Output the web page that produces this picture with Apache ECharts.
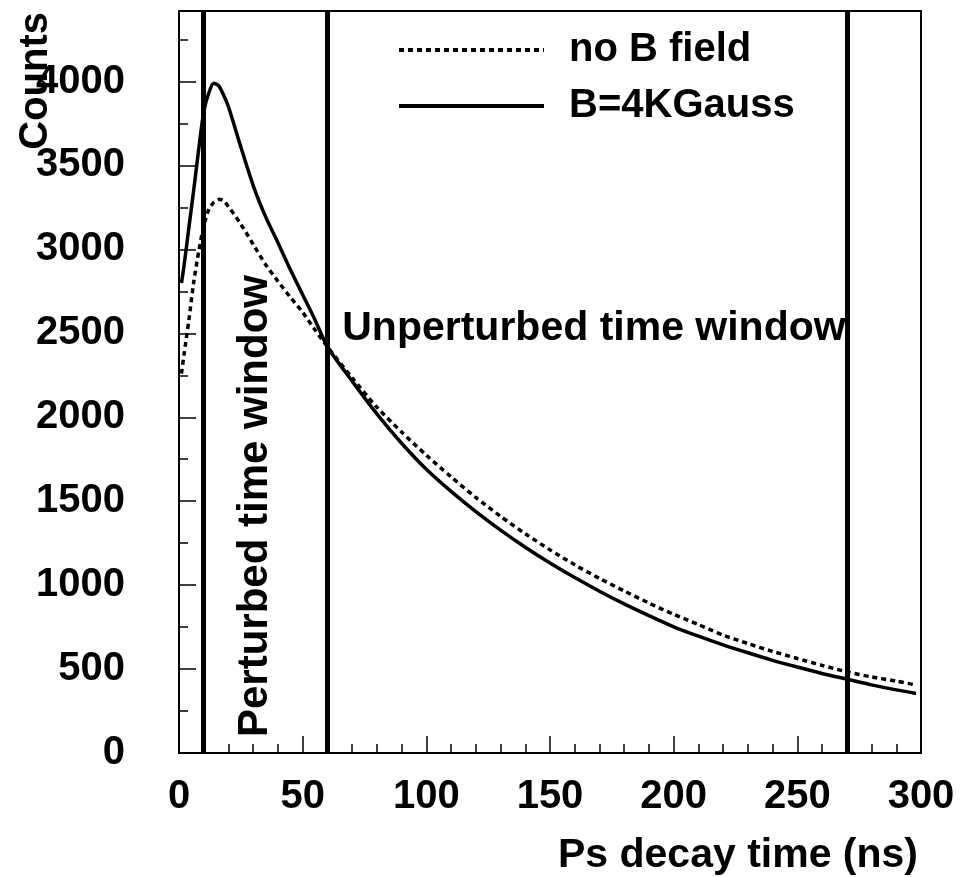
<!DOCTYPE html>
<html>
<head>
<meta charset="utf-8">
<script src="https://cdn.jsdelivr.net/npm/echarts@6/dist/echarts.min.js"></script>
<style>
  html, body { margin: 0; padding: 0; background: #fff; }
  #main { width: 970px; height: 877px; }
</style>
</head>
<body>
<div id="main"></div>
<script>
// decay time (ns)
var times = [1, 2, 4, 6, 8, 10, 12, 14, 16, 18, 20, 25, 30, 35, 40, 45, 50, 55, 60,
  70, 80, 90, 100, 110, 120, 130, 140, 150, 160, 170, 180, 190, 200,
  210, 220, 230, 240, 250, 260, 270, 280, 290, 298];
// counts, no B field (dotted)
var noField = [2260, 2370, 2580, 2810, 2990, 3140, 3235, 3280, 3298, 3290, 3255, 3150, 3030, 2910, 2810, 2715, 2625, 2520, 2420,
  2235, 2060, 1912, 1774, 1645, 1522, 1410, 1306, 1210, 1121, 1040, 965, 893, 826,
  765, 702, 652, 605, 563, 522, 484, 453, 428, 405];
// counts, B = 4 kGauss (solid)
var bField = [2800, 2900, 3130, 3360, 3600, 3820, 3930, 3990, 3975, 3920, 3850, 3610, 3380, 3195, 3040, 2880, 2730, 2580, 2420,
  2215, 2020, 1845, 1690, 1558, 1438, 1328, 1226, 1132, 1045, 964, 888, 818, 752,
  696, 644, 597, 552, 512, 474, 440, 406, 376, 355];
// time window borders
var windowEdges = [10, 60, 270];
var seriesNames = ['no B field', 'B=4KGauss'];

var FONT = "'Liberation Sans', Arial, Helvetica, sans-serif";

function pairs(xs, ys) {
  return xs.map(function (x, i) { return [x, ys[i]]; });
}

var chart = echarts.init(document.getElementById('main'));

var option = {
  animation: false,
  backgroundColor: '#fff',
  grid: {
    left: 179, top: 11, right: 49, bottom: 124,
    show: true, borderColor: '#000', borderWidth: 2
  },
  legend: {
    orient: 'vertical',
    left: 397,
    top: 30,
    padding: 0,
    itemWidth: 145,
    itemHeight: 20,
    itemGap: 16,
    data: seriesNames,
    itemStyle: { opacity: 0 },
    lineStyle: { width: 4 },
    textStyle: {
      fontFamily: FONT, fontWeight: 'bold', fontSize: 40, color: '#000',
      padding: [0, 0, 0, 20]
    }
  },
  xAxis: {
    type: 'value',
    min: 0, max: 300, interval: 50,
    name: 'Ps decay time (ns)',
    nameLocation: 'end',
    nameGap: -3,
    nameTextStyle: {
      fontFamily: FONT, fontWeight: 'bold', fontSize: 41, color: '#000',
      align: 'right', verticalAlign: 'top', padding: [82, 0, 0, 0]
    },
    axisLine: { lineStyle: { color: '#000', width: 2 } },
    axisTick: { inside: true, length: 17, lineStyle: { color: '#000', width: 1.5 } },
    minorTick: { show: true, splitNumber: 5, length: 9, lineStyle: { color: '#000', width: 1.5 } },
    splitLine: { show: false },
    axisLabel: {
      margin: 24,
      fontFamily: FONT, fontWeight: 'bold', fontSize: 40, color: '#000'
    }
  },
  yAxis: {
    type: 'value',
    min: 0, max: 4420, interval: 500,
    axisLine: { show: true, lineStyle: { color: '#000', width: 2 } },
    axisTick: { inside: true, length: 17, lineStyle: { color: '#000', width: 1.5 } },
    minorTick: { show: true, splitNumber: 2, length: 9, lineStyle: { color: '#000', width: 1.5 } },
    splitLine: { show: false },
    axisLabel: {
      margin: 54,
      showMaxLabel: false,
      formatter: function (v) { return String(v); },
      fontFamily: FONT, fontWeight: 'bold', fontSize: 40, color: '#000'
    }
  },
  series: [{
    name: seriesNames[0],
    type: 'line',
    symbol: 'none',
    smooth: 0.25,
    data: pairs(times, noField),
    lineStyle: { color: '#000', width: 3.5, type: [5, 4] },
    itemStyle: { color: '#000' },
    z: 3
  }, {
    name: seriesNames[1],
    type: 'line',
    symbol: 'none',
    smooth: 0.25,
    data: pairs(times, bField),
    lineStyle: { color: '#000', width: 3.5, type: 'solid' },
    itemStyle: { color: '#000' },
    z: 4,
    markLine: {
      silent: true,
      symbol: 'none',
      label: { show: false },
      lineStyle: { color: '#000', width: 5, type: 'solid' },
      data: windowEdges.map(function (t) { return { xAxis: t }; })
    }
  }]
};
chart.setOption(option);

// annotations, anchored to data coordinates
var pUnpert = chart.convertToPixel({ gridIndex: 0 }, [66, 2530]);
var pPert = chart.convertToPixel({ gridIndex: 0 }, [31, 95]);
chart.setOption({
  graphic: [{
    type: 'text',
    x: pUnpert[0], y: pUnpert[1],
    style: {
      text: 'Unperturbed time window',
      font: "bold 41px " + FONT, fill: '#000',
      textAlign: 'left', textVerticalAlign: 'middle'
    }
  }, {
    type: 'text',
    x: pPert[0], y: pPert[1],
    rotation: Math.PI / 2,
    style: {
      text: 'Perturbed time window',
      font: "bold 42px " + FONT, fill: '#000',
      textAlign: 'left', textVerticalAlign: 'middle'
    }
  }, {
    type: 'text',
    x: 36, y: 12,
    rotation: Math.PI / 2,
    style: {
      text: 'Counts',
      font: "bold 40px " + FONT, fill: '#000',
      textAlign: 'right', textVerticalAlign: 'middle'
    }
  }]
});
</script>
</body>
</html>
